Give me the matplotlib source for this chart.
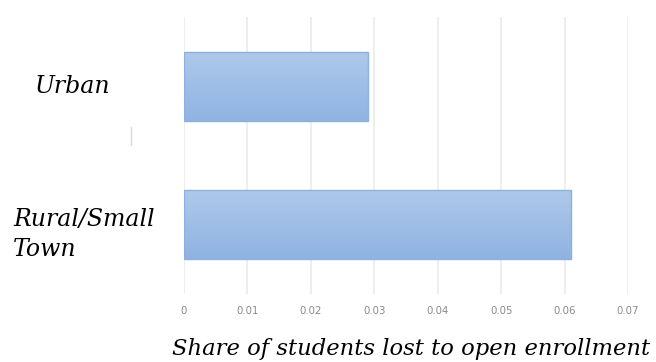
import numpy as np
import matplotlib.pyplot as plt
from matplotlib.colors import LinearSegmentedColormap
from matplotlib.lines import Line2D
from matplotlib.transforms import blended_transform_factory

categories = ["Urban", "Rural/Small\nTown"]
shares = [0.029, 0.061]
xticks = [0, 0.01, 0.02, 0.03, 0.04, 0.05, 0.06, 0.07]
xtick_labels = ["0", "0.01", "0.02", "0.03", "0.04", "0.05", "0.06", "0.07"]

serif = ["DejaVu Serif"]

fig = plt.figure(figsize=(6.56, 3.62), dpi=100)
ax = fig.add_axes([184 / 656, 68 / 362, 444 / 656, 277 / 362])

ypos = np.arange(len(categories))
bars = ax.barh(ypos, shares, height=0.5, color="none",
               edgecolor="#8db0de", linewidth=1.0, zorder=3)

# vertical gradient fill inside each bar, lighter at the top
cmap = LinearSegmentedColormap.from_list("bar", ["#afc9ea", "#8fb3e2"])
grad = np.linspace(0, 1, 256).reshape(-1, 1)
for b in bars:
    x0, y0 = b.get_x(), b.get_y()
    w, h = b.get_width(), b.get_height()
    im = ax.imshow(grad, cmap=cmap, aspect="auto", origin="upper",
                   extent=[x0, x0 + w, y0 + h, y0], zorder=2)
    im.set_clip_path(b)

ax.set_xlim(0, 0.07)
ax.set_ylim(1.5, -0.5)
ax.set_xticks(xticks)
ax.set_xticklabels(xtick_labels, fontsize=7.3, color="#8a8a8a")
ax.tick_params(axis="x", length=0, pad=9)
ax.set_yticks([])
ax.grid(axis="x", color="#ebebeb", linewidth=1.2, zorder=0)
for s in ax.spines.values():
    s.set_visible(False)

# category labels in the left margin
trans = blended_transform_factory(fig.transFigure, ax.transData)
ax.text(73 / 656, 0.0, categories[0], transform=trans, ha="center",
        va="center", family=serif, style="italic", fontsize=17)
ax.text(13 / 656, 1.07, categories[1], transform=trans, ha="left",
        va="center", family=serif, style="italic", fontsize=17,
        linespacing=1.38)

fig.text(411 / 656, 13 / 362, "Share of students lost to open enrollment",
         ha="center", va="center", family=serif, style="italic", fontsize=16.3)

# small stray tick mark left of the plot
fig.add_artist(Line2D([131 / 656, 131 / 656], [1 - 127 / 362, 1 - 145 / 362],
                      color="#d9d9d9", linewidth=1.0))

fig.savefig("out.png", dpi=100)
